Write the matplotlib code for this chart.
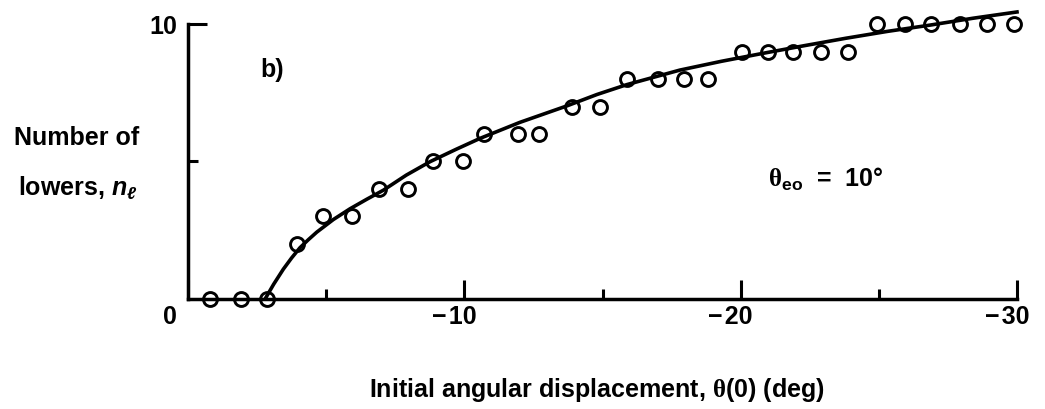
import numpy as np
import matplotlib
matplotlib.use("Agg")
import matplotlib.pyplot as plt
from matplotlib.transforms import ScaledTranslation

# fonts: bold helvetica-ish text, serif theta
plt.rcParams['font.family'] = ['Liberation Sans', 'DejaVu Sans']
plt.rcParams['font.weight'] = 'bold'
plt.rcParams['mathtext.fontset'] = 'custom'
plt.rcParams['mathtext.rm'] = 'Liberation Serif'
plt.rcParams['mathtext.it'] = 'Liberation Sans:italic:bold'
plt.rcParams['mathtext.bf'] = 'Liberation Sans:bold'

# measured points (initial displacement in deg, number of lowers)
theta0 = [-0.8, -1.9, -2.85, -3.95, -4.9, -5.95, -6.9, -7.95, -8.85, -9.95,
          -10.7, -11.95, -12.7, -13.9, -14.9, -15.9, -17.0, -17.95, -18.8, -20.05,
          -21.0, -21.9, -22.9, -23.9, -24.95, -25.95, -26.9, -27.95, -28.9, -29.9]
n_lowers = [0, 0, 0, 2, 3, 3, 4, 4, 5, 5,
            6, 6, 6, 7, 7, 8, 8, 8, 8, 9,
            9, 9, 9, 9, 10, 10, 10, 10, 10, 10]

# fitted curve
curve_theta = [-2.8, -3.1, -3.45, -3.75, -4.05, -4.35, -4.66, -5.26, -5.86, -6.47,
               -7.07, -7.9, -8.76, -9.7, -10.57, -12.0, -13.7, -14.8, -15.88, -17.8,
               -19.3, -20.8, -22.3, -23.8, -25.3, -26.85, -28.4, -30.0]
curve_n = [0.0, 0.52, 1.07, 1.48, 1.85, 2.14, 2.42, 2.88, 3.27, 3.62,
           3.95, 4.5, 4.99, 5.44, 5.84, 6.42, 7.02, 7.44, 7.8, 8.33,
           8.65, 8.94, 9.22, 9.49, 9.74, 9.97, 10.22, 10.45]

xticks = [0, -10, -20, -30]
xtick_labels = ['0', '\u2212\u200a10', '\u2212\u200a20', '\u2212\u200a30']
xminor = [-5, -15, -25]

W, H = 1045, 409
fig = plt.figure(figsize=(W / 100, H / 100), dpi=100)
ax = fig.add_axes([188 / W, 1 - 298.5 / H, (1017 - 188) / W, (298.5 - 24.3) / H])

ax.plot(curve_theta, curve_n, color='black', lw=2.6, clip_on=False, zorder=2)
ax.plot(theta0, n_lowers, 'o', mfc='none', mec='black', mew=2.1, ms=10,
        clip_on=False, zorder=3)

ax.set_xlim(0, -30)
ax.set_ylim(0, 10)
for s in ['top', 'right']:
    ax.spines[s].set_visible(False)
for s in ['left', 'bottom']:
    ax.spines[s].set_linewidth(2.5)
ax.spines['left'].set_bounds(0, 10)
ax.spines['bottom'].set_bounds(0, -30)

ax.set_xticks(xticks)
ax.set_xticklabels(xtick_labels)
ax.set_xticks(xminor, minor=True)
ax.set_yticks([10])
ax.set_yticklabels(['10'])
ax.set_yticks([5], minor=True)
ax.tick_params(which='major', direction='in', length=14, width=2.2, labelsize=18, pad=5)
ax.tick_params(which='minor', direction='in', length=7.5, width=2.2)
ax.tick_params(axis='y', which='major', pad=8)

# shift labels so the digits sit under the tick, like the original
shifts = [-18, -10, -10, -10]
for lab, dx in zip(ax.get_xticklabels(), shifts):
    lab.set_transform(lab.get_transform() + ScaledTranslation(dx / 100, 0, fig.dpi_scale_trans))

fig.text(597 / W, 1 - 397 / H, r'Initial angular displacement, $\mathrm{\theta}$(0) (deg)',
         ha='center', va='baseline', fontsize=18)
fig.text(77 / W, 1 - 145 / H, 'Number of', ha='center', va='baseline', fontsize=18)
fig.text(78 / W, 1 - 196 / H, r'lowers, $\mathit{n}_{\ell}$', ha='center', va='baseline', fontsize=18)

fig.text(260 / W, 1 - 77 / H, 'b)', ha='left', va='baseline', fontsize=18)
fig.text(768 / W, 1 - 187 / H, r'$\mathrm{\theta}_{\mathbf{eo}}$  =  10' + '\u00b0', ha='left',
         va='baseline', fontsize=18)

fig.savefig('out.png', dpi=100)
